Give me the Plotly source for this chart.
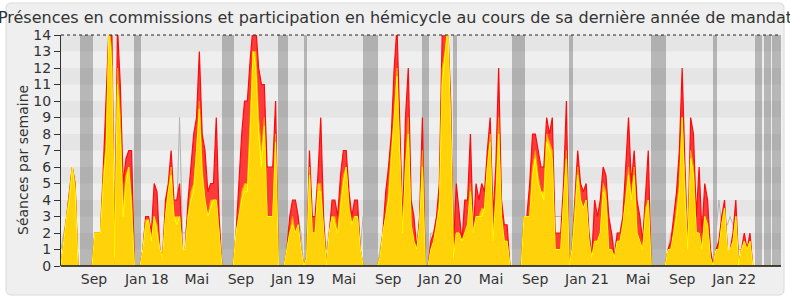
import plotly.graph_objects as go

# ---------------- data (weekly, week index 0 = mid-June 2017) ----------------
total_presence = [
    0, 1.5, 3, 4.5, 6, 5, 0, 0, 0, 0,
    0, 0, 2, 2, 2, 6, 10, 14.5, 14.5, 0.5,
    14.5, 11, 5, 6.5, 7, 7, 0, 0, 0, 1,
    3, 3, 2, 5, 4.5, 1, 0.5, 4, 5, 7,
    4, 4, 5, 1, 1, 4, 6, 8, 9, 13,
    8, 7, 4.5, 5, 5, 9, 3, 0, 0, 0,
    0, 0, 2, 5, 8, 10, 10, 12.5, 14.5, 14.5,
    12, 11, 11, 6, 6, 6, 10, 0, 0, 0,
    1, 3, 4, 4, 3, 1, 0, 0.5, 7, 3,
    3, 5.5, 9, 3, 0, 2, 4, 4, 3, 5.5,
    7, 7, 4.5, 3, 4, 4, 1, 0, 0, 0,
    0, 0, 0, 0.5, 2, 4.5, 6, 8, 12, 14.5,
    9, 2.5, 9, 12, 4, 3, 1, 3, 9, 0,
    0, 1.5, 2, 3, 5, 14, 14.5, 14.5, 10, 1,
    5, 3, 1.5, 4, 4, 8, 2, 5, 4, 5,
    4.5, 7, 9, 3, 6, 12, 4, 2.5, 2.5, 0,
    0, 0, 0, 0, 3, 3, 5, 8, 8, 7,
    6, 6, 9, 8, 9, 2, 2, 2, 5, 10,
    0, 1, 4, 7, 5, 4.5, 5, 2, 0.5, 4,
    3, 4, 6, 5.5, 3, 2, 0.5, 2, 2, 3,
    6, 9, 5, 7, 4, 3, 1.5, 4, 7, 0,
    0, 0, 0, 0, 0, 1, 1.5, 3, 4.5, 7,
    12, 6, 1, 9, 8, 3, 6, 2, 5, 4,
    1, 0, 1, 1.5, 3, 4, 1, 1, 2, 4,
    0, 1, 2, 1, 2, 0, 0, 0, 0, 0,
    0, 0, 0, 0, 0,
]

hemicycle_presence = [
    0, 1.5, 3, 4.5, 6, 5, 0, 0, 0, 0,
    0, 0, 2, 2, 2, 5.5, 7.5, 14.5, 13, 0.5,
    12, 9, 3.5, 5.5, 6, 4, 0, 0, 0, 1,
    2.8, 2.8, 1.5, 3, 2.5, 1, 0.5, 3, 4.5, 6,
    3, 3, 3, 1, 1, 3, 4.5, 5, 7, 10,
    6, 4, 3, 4, 4, 4, 2, 0, 0, 0,
    0, 0, 2, 3, 4.5, 5, 5, 9, 13, 13,
    9, 7, 9, 3, 3, 3, 8, 0, 0, 0,
    1, 2, 3, 2, 2.5, 1, 0, 0.5, 6, 2,
    2, 5, 5, 2, 0, 2, 3, 3, 2, 4,
    5.5, 6, 3.5, 2.5, 3, 3, 1, 0, 0, 0,
    0, 0, 0, 0.5, 2, 3, 4.5, 7, 9, 12,
    7, 2, 6, 9, 2.5, 1.5, 1, 2.5, 7, 0,
    0, 1, 1.5, 2.5, 4, 12, 13, 14.5, 9, 0.5,
    2, 2, 1.5, 2, 2.5, 5, 2, 3, 3, 3.5,
    3.5, 6, 8, 1.5, 4, 9, 3, 1.5, 1.5, 0,
    0, 0, 0, 0, 3, 3, 3, 6, 7, 5.5,
    4.5, 4.5, 8, 7.5, 7, 1, 1, 1, 4, 7,
    0, 1, 3.5, 6, 4, 3.5, 4, 1.5, 0.5, 1.5,
    1.5, 2, 5, 4.5, 1, 1, 0.5, 1.5, 1.5, 2.5,
    4, 6, 4, 6, 2, 1.5, 1, 3.5, 4, 0,
    0, 0, 0, 0, 0, 1, 1, 2, 3.5, 5,
    9, 4.5, 1, 7, 6, 2, 2, 1, 3, 2.5,
    0.5, 0, 1, 1, 2.5, 3.5, 1, 1, 1.5, 3,
    0, 1, 1.5, 1, 1.5, 0, 0, 0, 0, 0,
    0, 0, 0, 0, 0,
]

hemicycle_participation = [
    0, 1.5, 3, 4, 6, 4.5, 0, 0, 0, 0,
    0, 0, 2, 2, 2, 5, 7, 14.5, 12, 0.5,
    11, 8, 3, 5, 6, 3.5, 0, 0, 0, 1,
    2.5, 2.8, 1.5, 3, 2, 1, 0.5, 3, 4.5, 5.5,
    3, 2.5, 3, 1, 1, 3, 4, 4.5, 7, 9.5,
    5.5, 4, 3, 3.5, 4, 4, 2, 0, 0, 0,
    0, 0, 2, 3, 4, 4.5, 4.5, 8, 13, 12,
    8, 6, 8.5, 3, 3, 3, 7.5, 0, 0, 0,
    1, 2, 2.5, 2, 2.5, 1, 0, 0.5, 5.5, 2,
    2, 4.5, 4.5, 2, 0, 2, 3, 2.5, 2, 3.5,
    5, 6, 3.5, 2.5, 3, 3, 1, 0, 0, 0,
    0, 0, 0, 0.5, 2, 3, 4, 6.5, 9, 11.5,
    6.5, 2, 6, 8, 2.5, 1.5, 1, 2.5, 6, 0,
    0, 1, 1.5, 2.5, 3.5, 11, 12.5, 14.5, 8.5, 0.5,
    2, 2, 1.5, 2, 2.5, 4.5, 2, 3, 3, 3,
    3.5, 6, 7.5, 1.5, 4, 8, 3, 1.5, 1.5, 0,
    0, 0, 0, 0, 3, 3, 3, 5.5, 6.5, 5,
    4.5, 4, 7.5, 7, 6.5, 1, 1, 1, 4, 6.5,
    0, 1, 3, 5.5, 4, 3.5, 4, 1.5, 0.5, 1.5,
    1.5, 2, 4.5, 4, 1, 1, 0.5, 1.5, 1.5, 2.5,
    4, 5.5, 4, 5.5, 2, 1.5, 1, 3, 4, 0,
    0, 0, 0, 0, 0, 1, 1, 2, 3, 4.5,
    9, 4, 1, 6.5, 5.5, 2, 2, 1, 3, 2.5,
    0.5, 0, 1, 1, 2.5, 3.5, 1, 1, 1.5, 3,
    0, 1, 1.5, 1, 1.5, 0, 0, 0, 0, 0,
    0, 0, 0, 0, 0,
]

median_deputies = [
    1, 2, 3, 3, 3, 2, 0, 0, 0, 0,
    0, 0, 2, 2, 2, 3, 4, 4, 4, 1,
    4, 4, 3, 3, 3, 2, 0, 0, 0, 1,
    3, 3, 2, 3, 3, 1, 0.5, 3, 3, 3,
    3, 3, 9, 2, 2, 3, 5, 4, 4, 4,
    3, 3, 3, 3, 3, 3, 2, 0, 0, 0,
    0, 0, 2, 3, 4, 4, 4, 4, 4, 4,
    4, 3, 3, 3, 3, 3, 2, 0, 0, 0,
    1, 2, 3, 4, 3, 2, 0, 1, 3, 3,
    3, 3, 3, 2, 1, 2, 3, 3, 3, 3,
    3, 3, 3, 3, 3, 3, 1, 3, 0, 0,
    0, 0, 0, 1, 2, 3, 3, 4, 4, 4,
    3, 2, 3, 3, 3, 2, 1, 2, 2, 0,
    0, 2, 2, 3, 3, 4, 4, 4, 4, 1,
    2, 3, 1.5, 3, 3, 3, 2, 3, 3, 3,
    3, 3, 3, 3, 3, 3, 3, 2, 2, 0,
    0, 0, 0, 0, 2, 3, 3, 3, 3, 3,
    3, 3, 3, 3, 3, 3, 3, 3, 3, 2,
    0, 1, 3, 3, 3, 3, 3, 2, 1, 3,
    3, 3, 3, 3, 2, 2, 1, 2, 2, 3,
    3, 3, 3, 3, 3, 2, 1, 2, 2, 0,
    0, 0, 0, 0, 0, 1, 2, 2, 2, 3,
    3, 3, 1, 3, 3, 3, 3, 3, 3, 2,
    1, 0, 2, 4, 2.5, 2.5, 2.5, 3, 2.5, 2,
    1, 1, 1, 1, 1, 0, 0, 0, 0, 0,
    0, 0, 0, 0, 0,
]

# parliamentary holidays: (first week index, number of weeks)
holidays = [(7, 4), (26, 2), (57, 4), (77, 3), (86, 1), (107, 5), (128, 2),
            (139, 1), (160, 4), (180, 1), (209, 5), (231, 1), (246, 2),
            (249, 2), (252, 3)]

month_labels = ["Sep", "Jan 18", "Mai", "Sep", "Jan 19", "Mai", "Sep",
                "Jan 20", "Mai", "Sep", "Jan 21", "Mai", "Sep", "Jan 22"]
month_label_weeks = [11.7, 30.4, 48.1, 63.7, 82.1, 100.2, 115.9,
                     134.2, 152.3, 167.9, 186.3, 204.4, 220.0, 238.4]

title = ("Présences en commissions et participation en hémicycle "
         "au cours de sa dernière année de mandat")
y_title = "Séances par semaine"

# ---------------- figure ----------------
W, H = 790, 300
ML, MR, MT, MB = 61, 9, 35, 34
YMAX = 14
weeks = list(range(len(total_presence)))
XMAX = len(weeks)

fig = go.Figure()

# holiday bands
fig.add_trace(go.Bar(
    x=[a + n / 2 + 0.1 for a, n in holidays],
    y=[YMAX] * len(holidays),
    width=[n + 0.4 for a, n in holidays],
    marker=dict(color="rgba(0,0,0,0.23)", line=dict(width=0)),
    hoverinfo="skip", showlegend=False,
))

fig.add_trace(go.Scatter(
    x=weeks, y=median_deputies, mode="lines",
    line=dict(color="#b4b4b4", width=1), hoverinfo="skip", showlegend=False,
))
fig.add_trace(go.Scatter(
    x=weeks, y=total_presence, mode="lines", fill="tozeroy",
    line=dict(color="#ff0a0a", width=1.2), fillcolor="#ff3a3a",
    showlegend=False,
))
fig.add_trace(go.Scatter(
    x=weeks, y=hemicycle_presence, mode="lines", fill="tozeroy",
    line=dict(color="#ff9a00", width=1), fillcolor="#ffd20a",
    showlegend=False,
))
fig.add_trace(go.Scatter(
    x=weeks, y=hemicycle_participation, mode="lines",
    line=dict(color="#ffff00", width=1), showlegend=False,
))

shapes = []


def px_to_paper_x(px):
    return (px - ML) / (W - ML - MR)


def px_to_paper_y(py):
    return (H - MB - py) / (H - MT - MB)


# outer rounded panel
x0, x1, y0, y1, r = 6, 784, 3, 295, 5
path = (f"M {px_to_paper_x(x0 + r)},{px_to_paper_y(y0)} "
        f"L {px_to_paper_x(x1 - r)},{px_to_paper_y(y0)} "
        f"Q {px_to_paper_x(x1)},{px_to_paper_y(y0)} {px_to_paper_x(x1)},{px_to_paper_y(y0 + r)} "
        f"L {px_to_paper_x(x1)},{px_to_paper_y(y1 - r)} "
        f"Q {px_to_paper_x(x1)},{px_to_paper_y(y1)} {px_to_paper_x(x1 - r)},{px_to_paper_y(y1)} "
        f"L {px_to_paper_x(x0 + r)},{px_to_paper_y(y1)} "
        f"Q {px_to_paper_x(x0)},{px_to_paper_y(y1)} {px_to_paper_x(x0)},{px_to_paper_y(y1 - r)} "
        f"L {px_to_paper_x(x0)},{px_to_paper_y(y0 + r)} "
        f"Q {px_to_paper_x(x0)},{px_to_paper_y(y0)} {px_to_paper_x(x0 + r)},{px_to_paper_y(y0)} Z")
shapes.append(dict(type="path", xref="paper", yref="paper", path=path,
                   fillcolor="#efefef", line=dict(color="#dadada", width=1),
                   layer="below"))
# horizontal stripes
for k in range(1, YMAX, 2):
    shapes.append(dict(type="rect", xref="x", yref="y", x0=0, x1=XMAX,
                       y0=k, y1=k + 1, fillcolor="#e5e5e5",
                       line=dict(width=0), layer="below"))
# dotted top line
shapes.append(dict(type="line", xref="paper", yref="paper", x0=0, x1=1,
                   y0=1, y1=1, line=dict(color="#222", width=1, dash="dot")))
# bottom axis line
shapes.append(dict(type="line", xref="paper", yref="paper", x0=0, x1=1,
                   y0=0, y1=0, line=dict(color="#111", width=1.5)))
fig.update_layout(shapes=shapes)

fig.update_layout(
    width=W, height=H,
    margin=dict(l=ML, r=MR, t=MT, b=MB),
    paper_bgcolor="white", plot_bgcolor="#fafafa",
    barmode="overlay", bargap=0,
    font=dict(family="DejaVu Sans", color="#333", size=14),
    title=dict(text=title, x=0.5, xanchor="center", xref="container",
               y=1 - 17 / H, yanchor="middle", yref="container",
               font=dict(size=16, color="#333")),
    xaxis=dict(range=[0, XMAX], showgrid=False, zeroline=False,
               tickvals=month_label_weeks, ticktext=month_labels,
               ticks="", showline=False, tickfont=dict(size=14),
               ticklabelstandoff=3),
    yaxis=dict(range=[0, YMAX], showgrid=False, zeroline=False,
               tickvals=list(range(0, YMAX + 1)), ticks="outside",
               ticklen=6, tickcolor="#333", showline=True,
               linecolor="#333", linewidth=1, tickfont=dict(size=14)),
    annotations=[dict(text=y_title, xref="paper", yref="paper",
                      x=px_to_paper_x(13), y=px_to_paper_y(160),
                      textangle=-90, showarrow=False,
                      font=dict(size=14, color="#333"))],
)

fig.write_html("out.html")
